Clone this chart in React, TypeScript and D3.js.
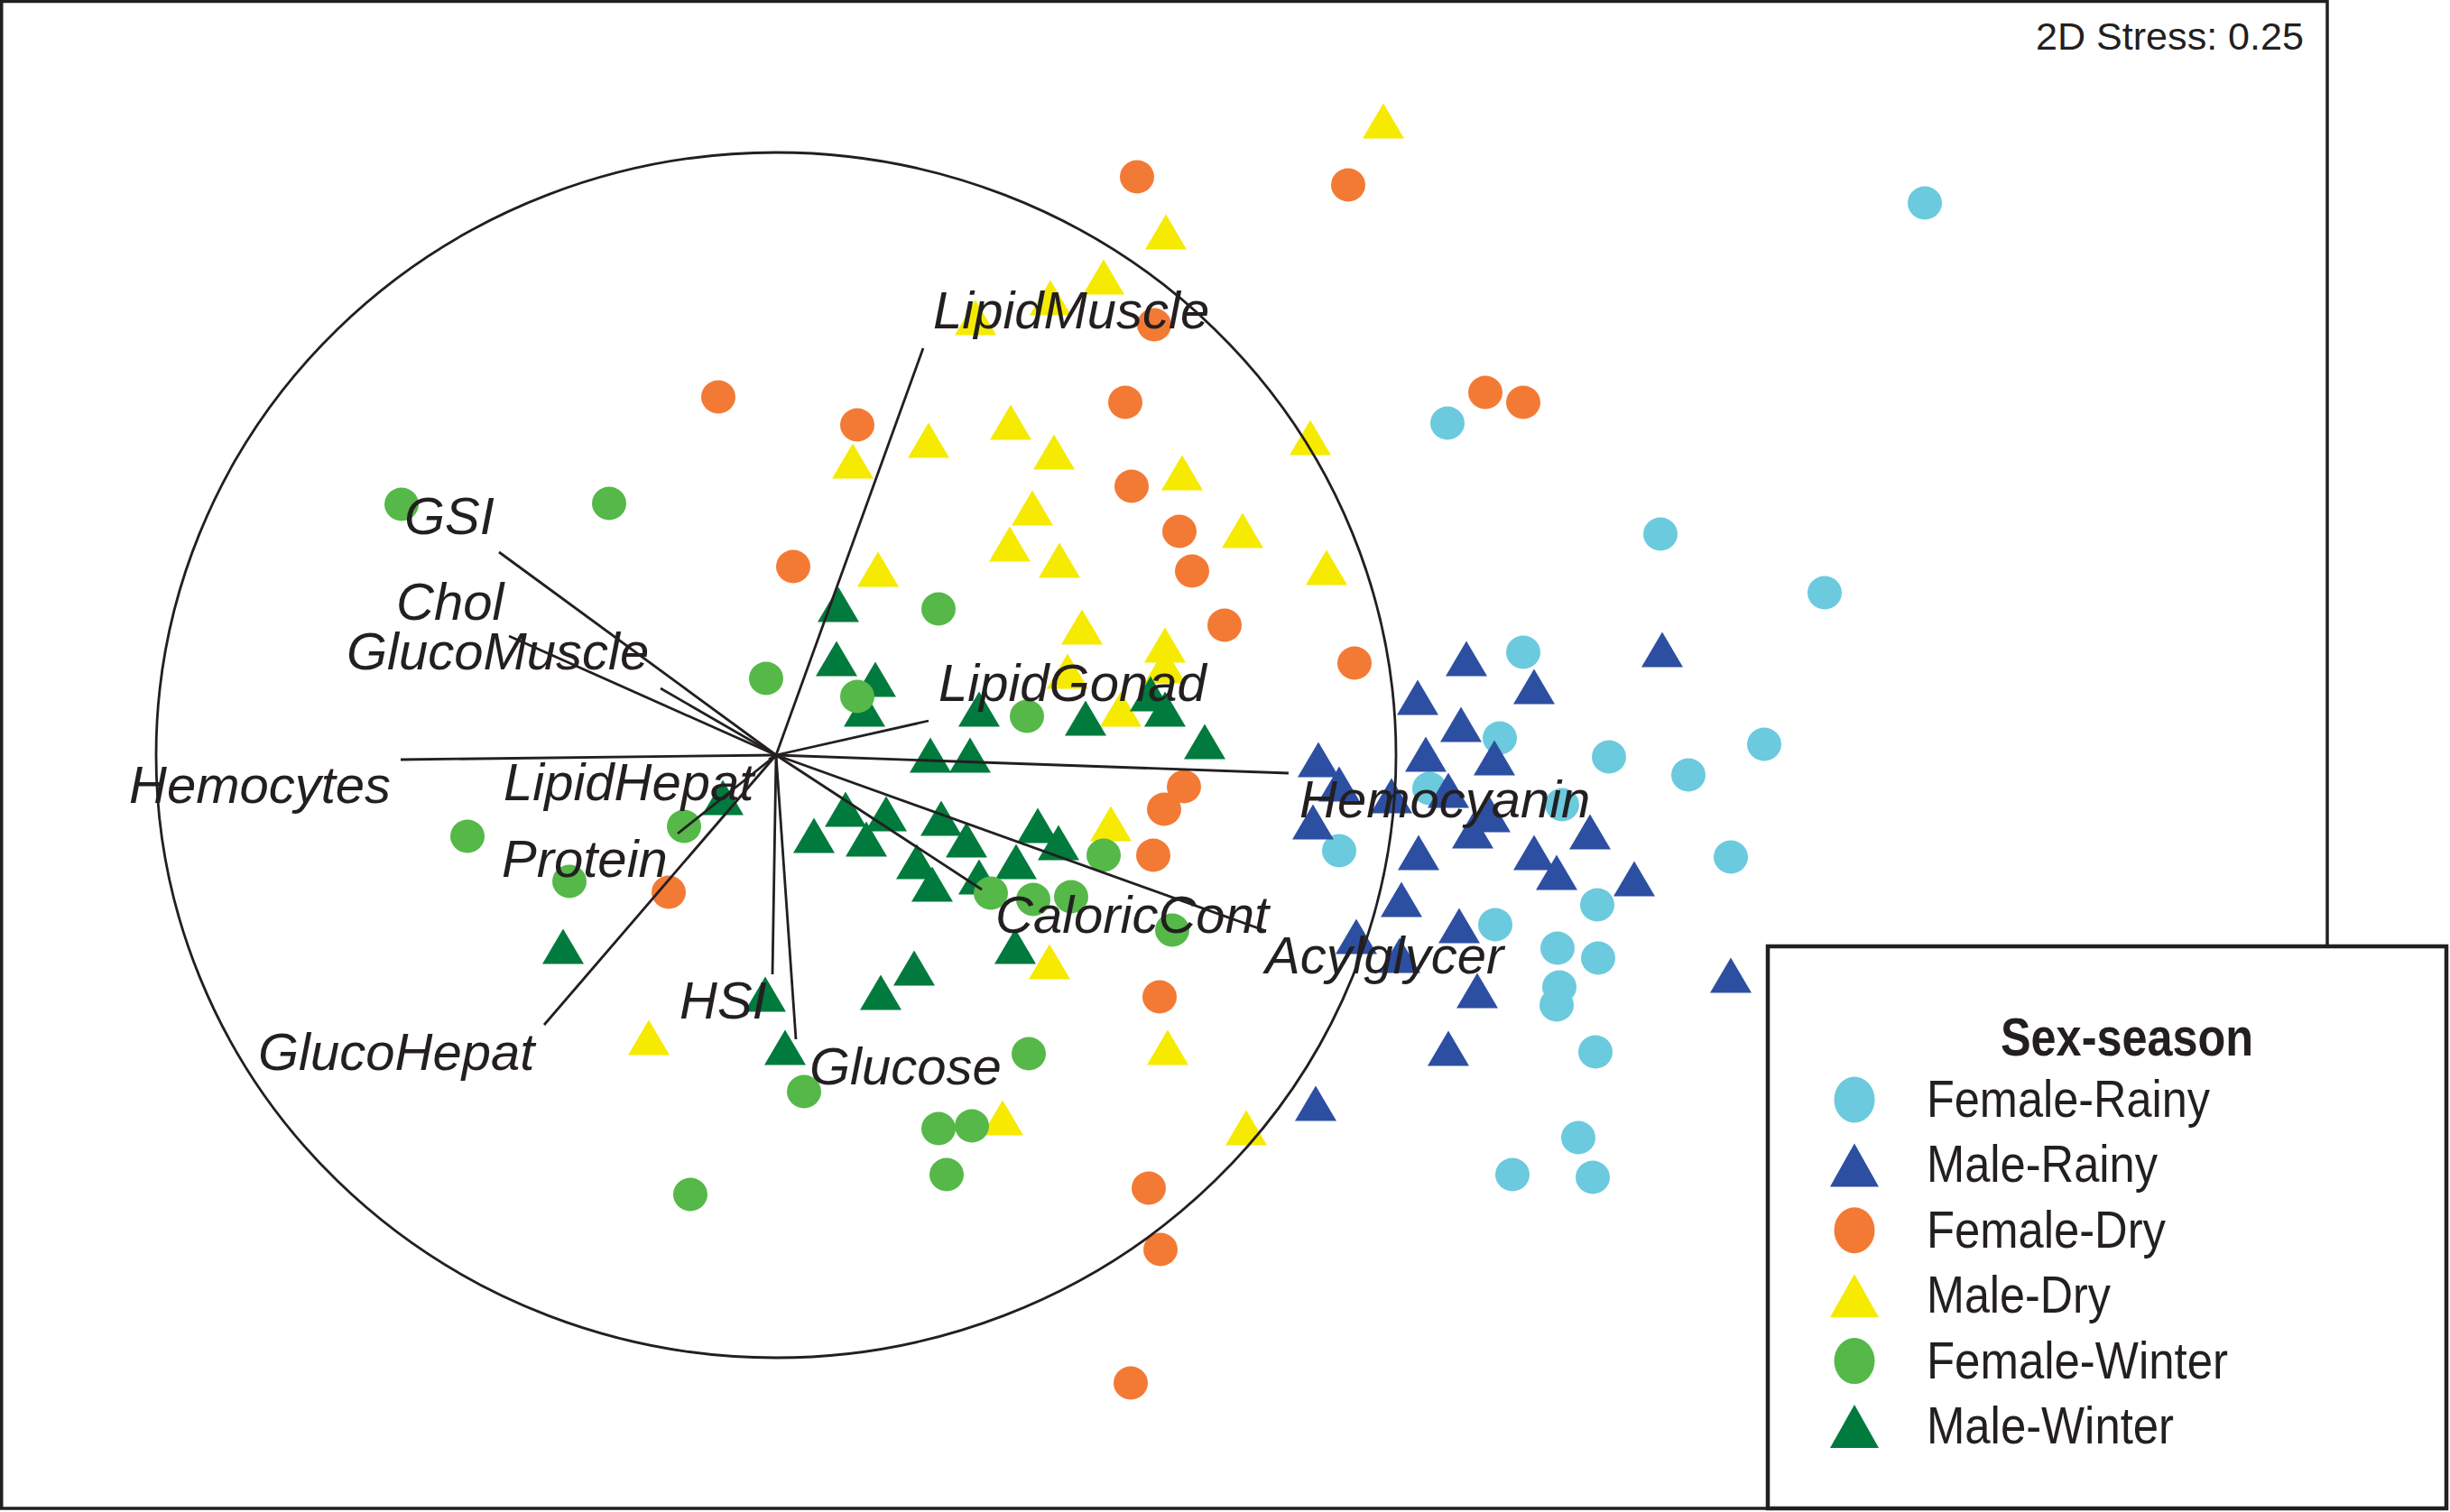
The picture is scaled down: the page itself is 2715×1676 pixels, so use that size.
import React from "react";
import * as d3 from "d3";

// ---------- data (NMDS coordinates) ----------
const groups = ["Female-Rainy", "Male-Rainy", "Female-Dry", "Male-Dry", "Female-Winter", "Male-Winter"];

const femaleRainy: [number, number][] = [
  [1.273, 0.612], [0.744, 0.368], [0.98, 0.245], [1.162, 0.18], [0.828, 0.114], [0.802, 0.019],
  [0.923, -0.002], [1.095, 0.012], [1.011, -0.022], [0.724, -0.037], [0.871, -0.055], [0.624, -0.106],
  [1.058, -0.113], [0.91, -0.166], [0.797, -0.188], [0.866, -0.214], [0.911, -0.225], [0.868, -0.257],
  [0.865, -0.277], [0.908, -0.329], [0.889, -0.424], [0.816, -0.465], [0.905, -0.468],
];
const maleRainy: [number, number][] = [
  [0.765, 0.107], [0.982, 0.117], [0.84, 0.076], [0.711, 0.064], [0.759, 0.034], [0.601, -0.005],
  [0.72, 0.001], [0.796, -0.003], [0.624, -0.032], [0.682, -0.045], [0.745, -0.039], [0.791, -0.066],
  [0.595, -0.074], [0.772, -0.084], [0.902, -0.085], [0.712, -0.108], [0.84, -0.108], [0.865, -0.13],
  [0.951, -0.137], [0.693, -0.16], [0.757, -0.189], [0.643, -0.201], [0.691, -0.222], [0.777, -0.261],
  [1.058, -0.244], [0.745, -0.325], [0.598, -0.386],
];
const femaleDry: [number, number][] = [
  [0.4, 0.641], [0.634, 0.632], [0.419, 0.477], [-0.064, 0.397], [0.09, 0.366], [0.387, 0.391],
  [0.786, 0.402], [0.828, 0.391], [0.394, 0.298], [0.447, 0.248], [0.461, 0.204], [0.019, 0.209],
  [0.497, 0.144], [0.641, 0.102], [0.452, -0.035], [0.43, -0.06], [0.418, -0.111], [-0.119, -0.152],
  [0.425, -0.268], [0.413, -0.48], [0.426, -0.548], [0.393, -0.696],
];
const maleDry: [number, number][] = [
  [0.673, 0.703], [0.432, 0.58], [0.363, 0.53], [0.304, 0.507], [0.221, 0.485], [0.085, 0.326],
  [0.169, 0.349], [0.26, 0.369], [0.308, 0.336], [0.45, 0.313], [0.592, 0.352], [0.284, 0.274],
  [0.259, 0.234], [0.314, 0.216], [0.517, 0.249], [0.113, 0.206], [0.61, 0.208], [0.339, 0.142],
  [0.431, 0.122], [0.431, 0.099], [0.323, 0.093], [0.382, 0.051], [0.371, -0.076], [0.303, -0.229],
  [-0.141, -0.313], [0.434, -0.324], [0.251, -0.402], [0.521, -0.413],
];
const femaleWinter: [number, number][] = [
  [-0.415, 0.278], [-0.185, 0.279], [0.18, 0.162], [-0.011, 0.085], [0.09, 0.065], [0.278, 0.043],
  [-0.342, -0.09], [-0.229, -0.14], [-0.102, -0.079], [0.363, -0.111], [0.238, -0.153], [0.285, -0.16],
  [0.327, -0.157], [0.439, -0.194], [0.031, -0.373], [0.28, -0.331], [0.18, -0.414], [0.217, -0.411],
  [0.189, -0.465], [-0.095, -0.487],
];
const maleWinter: [number, number][] = [
  [0.069, 0.167], [0.067, 0.107], [0.11, 0.084], [0.098, 0.051], [0.225, 0.051], [0.343, 0.041],
  [0.415, 0.068], [0.431, 0.051], [0.475, 0.015], [0.171, 0.0], [0.215, 0.0], [-0.059, -0.047],
  [-0.236, -0.212], [0.077, -0.06], [0.122, -0.065], [0.183, -0.07], [0.042, -0.089], [0.1, -0.093],
  [0.211, -0.094], [0.29, -0.078], [0.313, -0.097], [0.156, -0.118], [0.173, -0.143], [0.225, -0.135],
  [0.266, -0.118], [0.265, -0.212], [0.153, -0.236], [0.116, -0.263], [-0.012, -0.265], [0.01, -0.324],
];

// variable vectors (end points) and their label anchors
const vectorNames = ["LipidMuscle", "GSI", "Chol", "GlucoMuscle", "Hemocytes", "LipidHepat", "Protein",
  "GlucoHepat", "HSI", "Glucose", "LipidGonad", "Hemocyanin", "CaloricCont", "Acylglycer"];
const vectorEnds: [number, number][] = [
  [0.163, 0.451], [-0.307, 0.225], [-0.296, 0.132], [-0.128, 0.074], [-0.416, -0.005], [-0.008, -0.005],
  [-0.109, -0.087], [-0.257, -0.299], [-0.004, -0.243], [0.022, -0.315], [0.169, 0.038], [0.568, -0.02],
  [0.228, -0.149], [0.543, -0.195],
];
const vectorLabelAt: [number, number][] = [
  [0.174, 0.473], [-0.412, 0.245], [-0.421, 0.15], [-0.476, 0.095], [-0.717, -0.053], [-0.302, -0.05],
  [-0.304, -0.135], [-0.574, -0.349], [-0.107, -0.292], [0.037, -0.365], [0.18, 0.06], [0.58, -0.069],
  [0.243, -0.197], [0.542, -0.242],
];
const circleRadius: [number, number] = [0.687, 0.668];
const stressLabel = "2D Stress: 0.25";
const legendTitle = "Sex-season";

// ---------- styles ----------
const W = 2715;
const H = 1676;
const INK = "#231f20";
const colors = ["#6bcadd", "#2d4fa2", "#f37a35", "#f6ea00", "#55b848", "#007a3d"];
const shapes = ["circle", "triangle", "circle", "triangle", "circle", "triangle"];
const seriesList = [femaleRainy, maleRainy, femaleDry, maleDry, femaleWinter, maleWinter];
const drawOrder = [0, 1, 2, 3, 5, 4];
const legendTextLen = [314, 256, 265, 204, 334, 274];
const FONT = "'Liberation Sans', Arial, Helvetica, sans-serif";

function triPath(cx: number, cy: number, w: number, h: number) {
  const p = d3.path();
  p.moveTo(cx, cy - h / 2);
  p.lineTo(cx + w / 2, cy + h / 2);
  p.lineTo(cx - w / 2, cy + h / 2);
  p.closePath();
  return p.toString();
}

export default function App() {
  const x = d3.scaleLinear().domain([-0.86, 1.855]).range([0, W]);
  const y = d3.scaleLinear().domain([0.837, -0.839]).range([0, H]);

  const legendX = 1959, legendY = 1049, legendW = 752, legendH = 623;
  const rowY = d3.scaleLinear().domain([0, 5]).range([1219, 1581]);

  return (
    <svg width={W} height={H} viewBox={`0 0 ${W} ${H}`}
      style={{ position: "absolute", left: 0, top: 0, background: "#fff" }}
      fontFamily={FONT}>
      <rect x={0} y={0} width={W} height={H} fill="#fff" />
      {/* plot frame */}
      <rect x={1.75} y={1.5} width={2577.25} height={1670.5} fill="none" stroke={INK} strokeWidth={3.5} />

      {/* points */}
      {drawOrder.map((gi) => (
        <g key={groups[gi]}>
          {seriesList[gi].map((d, i) =>
            shapes[gi] === "circle" ? (
              <ellipse key={i} cx={x(d[0])} cy={y(d[1])} rx={19} ry={18.5} fill={colors[gi]} />
            ) : (
              <path key={i} d={triPath(x(d[0]), y(d[1]), 46, 39)} fill={colors[gi]} />
            )
          )}
        </g>
      ))}

      {/* correlation circle */}
      <ellipse cx={x(0)} cy={y(0)} rx={x(circleRadius[0]) - x(0)} ry={y(0) - y(circleRadius[1])}
        fill="none" stroke={INK} strokeWidth={2.8} />

      {/* vectors */}
      {vectorEnds.map((v, i) => (
        <line key={vectorNames[i]} x1={x(0)} y1={y(0)} x2={x(v[0])} y2={y(v[1])} stroke={INK} strokeWidth={2.8} />
      ))}
      {vectorLabelAt.map((p, i) => (
        <text key={vectorNames[i]} x={x(p[0])} y={y(p[1])} fontSize={58} fontStyle="italic" fill={INK}>
          {vectorNames[i]}
        </text>
      ))}

      {/* stress */}
      <text x={2553} y={55} fontSize={43} textAnchor="end" fill={INK} textLength={297} lengthAdjust="spacingAndGlyphs">
        {stressLabel}
      </text>

      {/* legend */}
      <rect x={legendX} y={legendY} width={legendW} height={legendH} fill="#fff" stroke={INK} strokeWidth={4.5} />
      <text x={2217} y={1170} fontSize={60} fontWeight="bold" fill={INK} textLength={280} lengthAdjust="spacingAndGlyphs">
        {legendTitle}
      </text>
      {groups.map((g, i) => {
        const cy = rowY(i);
        return (
          <g key={g}>
            {shapes[i] === "circle" ? (
              <ellipse cx={2055} cy={cy} rx={22.5} ry={25.5} fill={colors[i]} />
            ) : (
              <path d={triPath(2055, cy, 54, 48)} fill={colors[i]} />
            )}
            <text x={2135} y={cy + 19} fontSize={58} fill={INK} textLength={legendTextLen[i]} lengthAdjust="spacingAndGlyphs">
              {g}
            </text>
          </g>
        );
      })}
    </svg>
  );
}
